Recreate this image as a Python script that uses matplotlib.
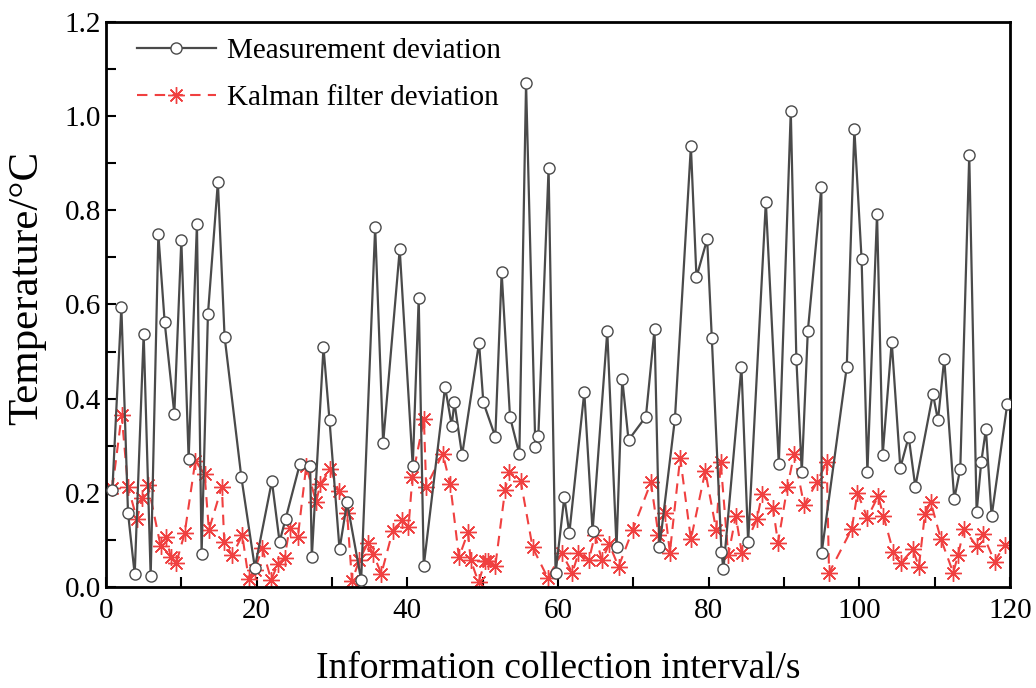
import numpy as np
import matplotlib.pyplot as plt
from matplotlib.ticker import MultipleLocator

plt.rcParams['font.family'] = ['Liberation Serif', 'DejaVu Serif']

measX = [0.85, 2.04, 2.92, 3.81, 5.0, 5.93, 6.95, 7.79, 9.07, 10.0,
         10.97, 12.07, 12.69, 13.53, 14.85, 15.74, 17.96, 19.76, 22.02, 23.04,
         23.83, 25.73, 27.1, 27.32, 28.87, 29.67, 31.0, 32.0, 33.87, 35.73,
         36.79, 38.99, 40.72, 41.51, 42.18, 45.01, 45.89, 46.25, 47.27, 49.52,
         50.09, 51.68, 52.52, 53.63, 54.87, 55.76, 56.99, 57.39, 58.75, 59.68,
         60.84, 61.5, 63.49, 64.59, 66.54, 67.77, 68.53, 69.36, 71.67, 72.81,
         73.47, 75.52, 77.64, 78.38, 79.8, 80.42, 81.7, 81.96, 84.35, 85.24,
         87.59, 89.31, 90.9, 91.64, 92.36, 93.16, 94.96, 95.0, 98.33, 99.34,
         100.3, 101.07, 102.35, 103.1, 104.3, 105.44, 106.55, 107.43, 109.77, 110.44,
         111.27, 112.6, 113.4, 114.59, 115.57, 116.18, 116.8, 117.56, 119.63]
measY = [0.207, 0.595, 0.158, 0.027, 0.538, 0.023, 0.749, 0.562, 0.368, 0.737,
         0.272, 0.771, 0.071, 0.579, 0.860, 0.532, 0.234, 0.041, 0.225, 0.096,
         0.144, 0.261, 0.256, 0.063, 0.509, 0.354, 0.080, 0.180, 0.015, 0.764,
         0.306, 0.717, 0.256, 0.613, 0.045, 0.425, 0.343, 0.392, 0.280, 0.519,
         0.392, 0.319, 0.668, 0.361, 0.282, 1.070, 0.298, 0.321, 0.889, 0.029,
         0.191, 0.114, 0.414, 0.119, 0.543, 0.084, 0.442, 0.312, 0.362, 0.547,
         0.084, 0.357, 0.936, 0.658, 0.739, 0.528, 0.075, 0.038, 0.467, 0.096,
         0.818, 0.261, 1.011, 0.485, 0.244, 0.543, 0.849, 0.073, 0.467, 0.972,
         0.696, 0.244, 0.793, 0.281, 0.521, 0.253, 0.319, 0.213, 0.410, 0.354,
         0.485, 0.187, 0.251, 0.917, 0.159, 0.265, 0.335, 0.150, 0.388]

# Kalman filter deviation
kalX = [0.85, 2.08, 2.92, 4.11, 4.83, 5.57, 7.25, 8.01, 8.58, 9.34,
        10.44, 11.86, 13.09, 13.66, 15.38, 15.7, 16.76, 18.09, 18.93, 19.72,
        20.74, 21.93, 22.81, 23.7, 24.36, 25.47, 26.58, 27.9, 28.43, 29.8,
        30.9, 32.0, 32.65, 33.65, 34.75, 35.45, 36.55, 38.07, 39.3, 40.15,
        40.68, 42.2, 42.5, 44.7, 45.7, 46.85, 48.05, 48.4, 49.45, 50.35,
        50.7, 51.68, 52.97, 53.5, 55.05, 56.63, 58.65, 60.5, 61.9, 62.72,
        64.1, 64.9, 65.83, 66.8, 68.04, 69.9, 72.33, 73.34, 74.23, 74.85,
        76.22, 77.64, 79.55, 81.0, 81.6, 82.6, 83.6, 84.4, 86.4, 87.1,
        88.55, 89.2, 90.45, 91.34, 92.66, 94.35, 95.67, 95.98, 98.99, 99.75,
        101.06, 102.5, 103.2, 104.5, 105.57, 107.1, 107.9, 108.7, 109.47, 110.8,
        112.47, 113.1, 113.9, 115.57, 116.4, 117.96, 119.3]
kalY = [0.210, 0.365, 0.213, 0.144, 0.190, 0.217, 0.087, 0.107, 0.064, 0.052,
        0.114, 0.268, 0.239, 0.121, 0.213, 0.096, 0.067, 0.110, 0.018, 0.036,
        0.082, 0.015, 0.049, 0.061, 0.125, 0.107, 0.257, 0.180, 0.218, 0.250,
        0.203, 0.158, 0.013, 0.058, 0.093, 0.071, 0.028, 0.120, 0.143, 0.127,
        0.234, 0.356, 0.213, 0.283, 0.218, 0.063, 0.116, 0.058, 0.010, 0.056,
        0.056, 0.045, 0.205, 0.245, 0.225, 0.084, 0.019, 0.072, 0.030, 0.072,
        0.057, 0.111, 0.057, 0.091, 0.043, 0.121, 0.222, 0.110, 0.158, 0.073,
        0.275, 0.101, 0.246, 0.121, 0.265, 0.067, 0.151, 0.072, 0.144, 0.198,
        0.167, 0.094, 0.213, 0.282, 0.174, 0.222, 0.265, 0.030, 0.123, 0.200,
        0.147, 0.193, 0.151, 0.075, 0.052, 0.080, 0.043, 0.154, 0.181, 0.103,
        0.030, 0.068, 0.123, 0.087, 0.112, 0.054, 0.089]

fig = plt.figure(figsize=(10.36, 6.88), dpi=100)
ax = fig.add_axes([106/1036, 101/688, 904/1036, 565/688])

ax.plot(kalX, kalY, color='#f04040', linestyle=(0, (5, 3.5)), linewidth=1.5,
        marker=(8, 2, 0), markersize=12, markeredgewidth=1.0,
        label='Kalman filter deviation', zorder=2)
ax.plot(measX, measY, color='#4a4a4a', linewidth=1.6,
        marker='o', markersize=8, markerfacecolor='white',
        markeredgecolor='#4a4a4a', markeredgewidth=1.0,
        label='Measurement deviation', zorder=3)

ax.set_xlim(0, 120)
ax.set_ylim(0, 1.2)
ax.xaxis.set_major_locator(MultipleLocator(20))
ax.xaxis.set_minor_locator(MultipleLocator(10))
ax.yaxis.set_minor_locator(MultipleLocator(0.1))
ax.set_yticks(np.arange(0, 1.21, 0.2))
ax.set_yticklabels([f"{v:.1f}" for v in np.arange(0, 1.21, 0.2)])
ax.tick_params(which='both', direction='in', width=1.5, labelsize=21,
               top=False, right=False, length=7)
ax.tick_params(axis='x', pad=8)
for s in ax.spines.values():
    s.set_linewidth(2)

ax.set_xlabel('Information collection interval/s', fontsize=27, labelpad=20)
ax.set_ylabel('Temperature/°C', fontsize=31)
ax.yaxis.set_label_coords(-0.066, 0.53)

handles, labels = ax.get_legend_handles_labels()
ax.legend(handles[::-1], labels[::-1], loc='upper left', frameon=False,
          fontsize=21, handlelength=2.7, handletextpad=0.4,
          bbox_to_anchor=(0.005, 1.018), labelspacing=0.68)

plt.savefig('out.png', dpi=100)
